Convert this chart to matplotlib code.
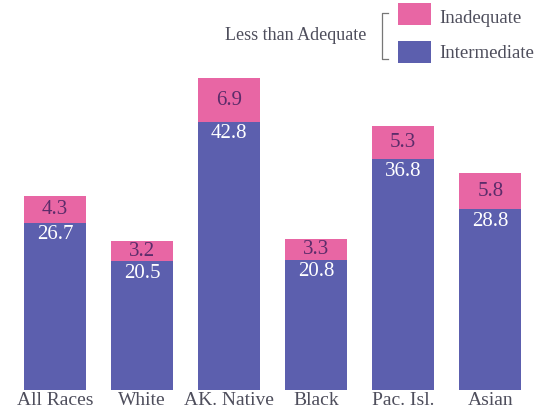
import matplotlib
matplotlib.use("Agg")
import matplotlib.pyplot as plt
from matplotlib.patches import Rectangle
import numpy as np

categories = ["All Races", "White", "AK. Native", "Black", "Pac. Isl.", "Asian"]
intermediate = [26.7, 20.5, 42.8, 20.8, 36.8, 28.8]
inadequate = [4.3, 3.2, 6.9, 3.3, 5.3, 5.8]
series_names = ["Inadequate", "Intermediate"]
group_label = "Less than Adequate"

BLUE = "#5c5fae"
PINK = "#e866a4"
PINK_TEXT = "#5b2c6a"
LABEL_GRAY = "#4e4e5c"
SERIF = ["Liberation Serif", "DejaVu Serif"]

W, H = 546, 412
fig = plt.figure(figsize=(W / 100, H / 100), dpi=100)

# main bar axes: baseline sits 22 px above the bottom edge
ax = fig.add_axes([0, 22 / H, 1, 390 / H])
x = np.arange(len(categories))
ax.bar(x, intermediate, width=0.71, color=BLUE, edgecolor="none")
ax.bar(x, inadequate, width=0.71, bottom=intermediate, color=PINK, edgecolor="none")
ax.set_xlim(-0.632, 5.64)
ax.set_ylim(0, 62.2)

for xi, lo, hi in zip(x, intermediate, inadequate):
    ax.text(xi, lo + hi / 2, f"{hi}", ha="center", va="center",
            fontsize=15, color=PINK_TEXT, family=SERIF)
    ax.annotate(f"{lo}", (xi, lo), xytext=(0, -2), textcoords="offset points",
                ha="center", va="top", fontsize=15, color="white",
                family=SERIF)

ax.set_xticks(x)
ax.set_xticklabels(categories, fontsize=14, color=LABEL_GRAY, family=SERIF)
ax.tick_params(axis="x", length=0, pad=1.5)
ax.set_yticks([])
for s in ax.spines.values():
    s.set_visible(False)

# legend drawn in pixel coordinates
lg = fig.add_axes([0, 0, 1, 1], zorder=3)
lg.set_xlim(0, W)
lg.set_ylim(H, 0)
lg.axis("off")
lg.add_patch(Rectangle((398, 3), 33, 22, color=PINK, lw=0))
lg.add_patch(Rectangle((398, 41), 33, 22, color=BLUE, lw=0))
lg.text(439, 18, series_names[0], ha="left", va="center", fontsize=13.5,
        color=LABEL_GRAY, family=SERIF)
lg.text(439, 53, series_names[1], ha="left", va="center", fontsize=13.5,
        color=LABEL_GRAY, family=SERIF)
lg.plot([388, 382, 382, 388], [13, 13, 59, 59], color="#777777", lw=0.9)
lg.text(366, 35, group_label, ha="right", va="center", fontsize=13,
        color=LABEL_GRAY, family=SERIF)

fig.savefig("out.png", dpi=100, facecolor="white")
